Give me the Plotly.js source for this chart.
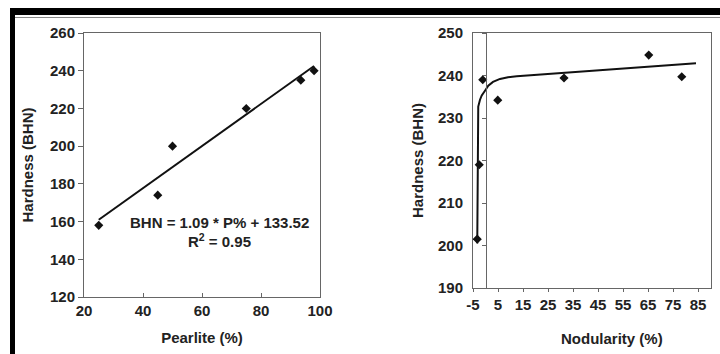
<!DOCTYPE html>
<html>
<head>
<meta charset="utf-8">
<script src="https://cdn.plot.ly/plotly-3.0.1.min.js"></script>
<style>html,body{margin:0;padding:0;background:#fff;}#chart{width:720px;height:354px;}</style>
</head>
<body>
<div id="chart"></div>
<script>
// Left panel: hardness vs pearlite
const pearliteX = [25, 45, 50, 75, 93.5, 98];
const pearliteHardness = [158, 174, 200, 220, 235, 240];
const fitX = [25, 98];
const fitY = [161, 242.5];
const fitEquation = "BHN = 1.09 * P% + 133.52";
const fitR2 = "R<sup>2</sup> = 0.95";

// Right panel: hardness vs nodularity
const nodularityX = [-3.3, -2.5, -1.1, 4.9, 31.4, 65.3, 78.5];
const nodularityHardness = [201.5, 219, 239, 234.2, 239.4, 244.8, 239.7];
const curveX = [-3.3, -2.9, -2.2, -1.5, 0, 1.1, 3, 5.8, 9, 12.5, 84.2];
const curveY = [200.5, 232.7, 234.3, 235.3, 236.6, 237.6, 238.5, 239.2, 239.6, 239.8, 242.9];

const leftXTicks = [20, 40, 60, 80, 100];
const leftYTicks = [120, 140, 160, 180, 200, 220, 240, 260];
const rightXTicks = [-5, 5, 15, 25, 35, 45, 55, 65, 75, 85];
const rightYTicks = [190, 200, 210, 220, 230, 240, 250];

const W = 720, H = 354;
const px = v => v / W;
const py = v => 1 - v / H;

const FONT = 'Liberation Sans, Arial, sans-serif';
const tickFont = {family: FONT, size: 15, weight: 'bold', color: '#222'};
const titleFont = {family: FONT, size: 15, weight: 'bold', color: '#222'};
const boxLine = '#666';

const leftDom = [px(84), px(320)];
const leftYDom = [py(297), py(33)];
const rightDom = [px(473), px(710.5)];
const rightYDom = [py(288), py(33)];
const crossPos = rightDom[0] + (0 - (-5)) / 95 * (rightDom[1] - rightDom[0]);

const traces = [
  {x: pearliteX, y: pearliteHardness, type: 'scatter', mode: 'markers', xaxis: 'x', yaxis: 'y',
   marker: {symbol: 'diamond', size: 7, color: '#111'}, showlegend: false},
  {x: fitX, y: fitY, type: 'scatter', mode: 'lines', xaxis: 'x', yaxis: 'y',
   line: {color: '#111', width: 2}, showlegend: false},
  {x: nodularityX, y: nodularityHardness, type: 'scatter', mode: 'markers', xaxis: 'x2', yaxis: 'y2',
   marker: {symbol: 'diamond', size: 7, color: '#111'}, showlegend: false},
  {x: curveX, y: curveY, type: 'scatter', mode: 'lines', xaxis: 'x2', yaxis: 'y2',
   line: {color: '#111', width: 2}, showlegend: false},
  {x: [], y: [], type: 'scatter', mode: 'markers', xaxis: 'x2', yaxis: 'y3', showlegend: false}
];

const layout = {
  width: W, height: H,
  margin: {l: 0, r: 0, t: 0, b: 0},
  paper_bgcolor: '#ffffff', plot_bgcolor: '#ffffff',
  showlegend: false,
  xaxis: {domain: leftDom, anchor: 'y', range: [20, 100], tickvals: leftXTicks, ticktext: leftXTicks.map(String),
          ticks: 'inside', ticklen: 4, tickcolor: boxLine, showline: true, mirror: true, linecolor: boxLine, linewidth: 1,
          showgrid: false, zeroline: false, tickfont: tickFont,
          title: {text: 'Pearlite (%)', font: titleFont, standoff: 14}},
  yaxis: {domain: leftYDom, anchor: 'x', range: [120, 260], tickvals: leftYTicks, ticktext: leftYTicks.map(String),
          ticks: 'outside', ticklen: 5, tickcolor: boxLine, showline: true, mirror: true, linecolor: boxLine, linewidth: 1,
          showgrid: false, zeroline: false, tickfont: tickFont,
          title: {text: 'Hardness (BHN)', font: titleFont, standoff: 12}},
  xaxis2: {domain: rightDom, anchor: 'y2', range: [-5, 90], tickvals: rightXTicks, ticktext: rightXTicks.map(String),
           ticks: 'outside', ticklen: 3, tickcolor: boxLine, showline: true, mirror: true, linecolor: boxLine, linewidth: 1,
           showgrid: false, zeroline: false, tickfont: tickFont},
  yaxis2: {domain: rightYDom, anchor: 'x2', range: [190, 250], tickvals: rightYTicks, ticktext: rightYTicks.map(String),
           ticks: '', showline: true, mirror: true, linecolor: boxLine, linewidth: 1, ticklabelstandoff: 6,
           showgrid: false, zeroline: false, tickfont: tickFont,
           title: {text: 'Hardness (BHN)', font: titleFont, standoff: 10}},
  yaxis3: {domain: rightYDom, overlaying: 'y2', anchor: 'free', position: crossPos, range: [190, 250],
           tickvals: rightYTicks, showticklabels: false, ticks: 'outside', ticklen: 4, tickcolor: boxLine,
           showline: true, linecolor: boxLine, linewidth: 1, showgrid: false, zeroline: false},
  annotations: [
    {xref: 'x', yref: 'y', x: 66, y: 159.5, text: fitEquation, showarrow: false,
     font: {family: FONT, size: 15, weight: 'bold', color: '#222'}},
    {xref: 'x', yref: 'y', x: 66, y: 150, text: fitR2, showarrow: false,
     font: {family: FONT, size: 15, weight: 'bold', color: '#222'}},
    {xref: 'paper', yref: 'paper', x: px(612), y: py(338), text: 'Nodularity (%)', showarrow: false,
     xanchor: 'center', yanchor: 'middle', font: titleFont}
  ],
  shapes: [
    {type: 'rect', xref: 'paper', yref: 'paper', x0: px(10), x1: 1, y0: py(15), y1: py(8), fillcolor: '#000', line: {width: 0}},
    {type: 'rect', xref: 'paper', yref: 'paper', x0: px(10), x1: px(15), y0: 0, y1: py(8), fillcolor: '#000', line: {width: 0}},
    {type: 'line', xref: 'paper', yref: 'paper', x0: px(15), x1: 1, y0: py(17.5), y1: py(17.5), line: {color: '#888', width: 1}}
  ]
};

Plotly.newPlot('chart', traces, layout, {displayModeBar: false, staticPlot: true});
</script>
</body>
</html>
